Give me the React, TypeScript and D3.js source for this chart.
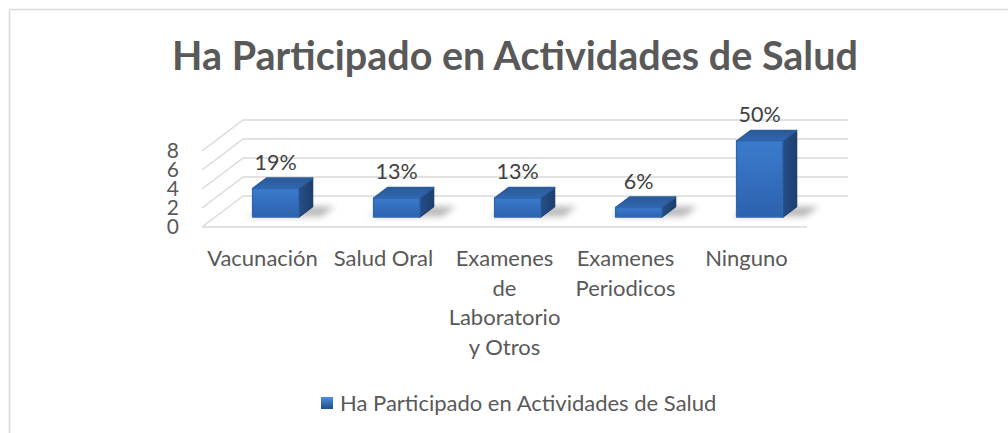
import * as d3 from "d3";

// datos del gráfico
const categories = [
  "Vacunación",
  "Salud Oral",
  "Examenes de Laboratorio y Otros",
  "Examenes Periodicos",
  "Ninguno",
];
const categoryLines = [
  ["Vacunación"],
  ["Salud Oral"],
  ["Examenes", "de", "Laboratorio", "y Otros"],
  ["Examenes", "Periodicos"],
  ["Ninguno"],
];
const values = [3, 2, 2, 1, 8];
const valueLabels = ["19%", "13%", "13%", "6%", "50%"];
const yTicks = [0, 2, 4, 6, 8];
const title = "Ha Participado en Actividades de Salud";
const seriesName = "Ha Participado en Actividades de Salud";

const W = 1008;
const H = 433;
const FONT = "Lato, 'Open Sans', sans-serif";

export default function App() {
  // plano frontal del piso y profundidad
  const floorY = 227;
  const depth = { dx: 41, dy: -31 };
  const barDepth = [0.32, 0.66];

  const x = d3.scaleBand<string>().domain(categories).range([202, 807]).padding(0);
  const y = d3.scaleLinear().domain([0, 8]).range([floorY, floorY - 76]);

  const proj = (px: number, py: number, f: number): [number, number] => [
    px + f * depth.dx,
    py + f * depth.dy,
  ];
  const pts = (arr: [number, number][]) => arr.map((p) => p.join(",")).join(" ");

  const barW = x.bandwidth() * 0.38;
  const [xMin, xMax] = x.range();

  return (
    <svg
      width={W}
      height={H}
      style={{ position: "absolute", left: 0, top: 0, background: "#fff" }}
      fontFamily={FONT}
    >
      <defs>
        <linearGradient id="frontGrad" x1="0" y1="0" x2="0" y2="1">
          <stop offset="0%" stopColor="#3b7bcc" />
          <stop offset="100%" stopColor="#2c62ae" />
        </linearGradient>
        <linearGradient id="topGrad" x1="0" y1="1" x2="0" y2="0">
          <stop offset="0%" stopColor="#3168b2" />
          <stop offset="100%" stopColor="#2a5997" />
        </linearGradient>
        <linearGradient id="sideGrad" x1="0" y1="0" x2="1" y2="0">
          <stop offset="0%" stopColor="#264f8a" />
          <stop offset="100%" stopColor="#1d3e6e" />
        </linearGradient>
        <linearGradient id="legendGrad" x1="0" y1="0" x2="0" y2="1">
          <stop offset="0%" stopColor="#4f8fdc" />
          <stop offset="100%" stopColor="#1f4e8c" />
        </linearGradient>
        <filter id="shadowBlur" x="-50%" y="-50%" width="200%" height="200%">
          <feGaussianBlur stdDeviation="3" />
        </filter>
      </defs>

      {/* borde del área del gráfico */}
      <line x1={9.5} x2={W} y1={9.5} y2={9.5} stroke="#d9d9d9" strokeWidth={1.5} />
      <line x1={9.5} x2={9.5} y1={9.5} y2={H} stroke="#d9d9d9" strokeWidth={1.5} />

      {/* título */}
      <text
        x={515}
        y={70}
        textAnchor="middle"
        fontSize={39.5}
        fontWeight={700}
        fill="#595959"
      >
        {title}
      </text>

      {/* líneas de la pared trasera y lateral */}
      {yTicks.map((t) => {
        const [bx0, by] = proj(xMin, y(t), 1);
        const [bx1] = proj(xMax, y(t), 1);
        return (
          <g key={"g" + t}>
            <line x1={bx0} x2={bx1} y1={by} y2={by} stroke="#d9d9d9" strokeWidth={1.5} />
            <line x1={xMin} y1={y(t)} x2={bx0} y2={by} stroke="#d9d9d9" strokeWidth={1.5} />
          </g>
        );
      })}
      <line x1={xMin} x2={xMax} y1={floorY} y2={floorY} stroke="#d9d9d9" strokeWidth={1.5} />

      {/* etiquetas eje Y */}
      {yTicks.map((t) => (
        <text
          key={"t" + t}
          x={179}
          y={y(t)}
          dy="0.35em"
          textAnchor="end"
          fontSize={21}
          fill="#595959"
        >
          {t}
        </text>
      ))}

      {/* barras 3D */}
      {categories.map((c, i) => {
        const cx = x(c)! + x.bandwidth() / 2;
        const x0 = cx - barW / 2;
        const x1 = cx + barW / 2;
        const yb = y(0);
        const yt = y(values[i]);
        const [f0, f1] = barDepth;
        const front: [number, number][] = [
          proj(x0, yt, f0),
          proj(x1, yt, f0),
          proj(x1, yb, f0),
          proj(x0, yb, f0),
        ];
        const top: [number, number][] = [
          proj(x0, yt, f0),
          proj(x1, yt, f0),
          proj(x1, yt, f1),
          proj(x0, yt, f1),
        ];
        const side: [number, number][] = [
          proj(x1, yt, f0),
          proj(x1, yt, f1),
          proj(x1, yb, f1),
          proj(x1, yb, f0),
        ];
        const shadow: [number, number][] = [
          proj(x0 - 6, yb, f0 + 0.02),
          proj(x1 + 22, yb, f0 + 0.02),
          proj(x1 + 22, yb, f1),
          proj(x0 + 4, yb, f1),
        ];
        const labelPos = proj(cx, yt, f0);
        return (
          <g key={c}>
            <polygon points={pts(shadow)} fill="#7f7f7f" opacity={0.55} filter="url(#shadowBlur)" />
            <polygon points={pts(side)} fill="url(#sideGrad)" stroke="#1f4272" strokeWidth={1.5} strokeLinejoin="round" />
            <polygon points={pts(top)} fill="url(#topGrad)" stroke="#2b5c9c" strokeWidth={1.5} strokeLinejoin="round" />
            <polygon points={pts(front)} fill="url(#frontGrad)" stroke="#2f67b2" strokeWidth={1.5} strokeLinejoin="round" />
            <text
              x={labelPos[0]}
              y={labelPos[1] - 19}
              textAnchor="middle"
              fontSize={21.5}
              fill="#404040"
            >
              {valueLabels[i]}
            </text>
          </g>
        );
      })}

      {/* etiquetas de categoría */}
      {categories.map((c, i) => (
        <text
          key={"c" + c}
          x={x(c)! + x.bandwidth() / 2}
          y={266}
          textAnchor="middle"
          fontSize={22}
          fill="#595959"
        >
          {categoryLines[i].map((line, j) => (
            <tspan key={j} x={x(c)! + x.bandwidth() / 2} dy={j === 0 ? 0 : 29.5}>
              {line}
            </tspan>
          ))}
        </text>
      ))}

      {/* leyenda */}
      <rect x={321} y={397} width={12} height={12} fill="url(#legendGrad)" />
      <text x={340} y={411} fontSize={22} fill="#595959">
        {seriesName}
      </text>
    </svg>
  );
}
